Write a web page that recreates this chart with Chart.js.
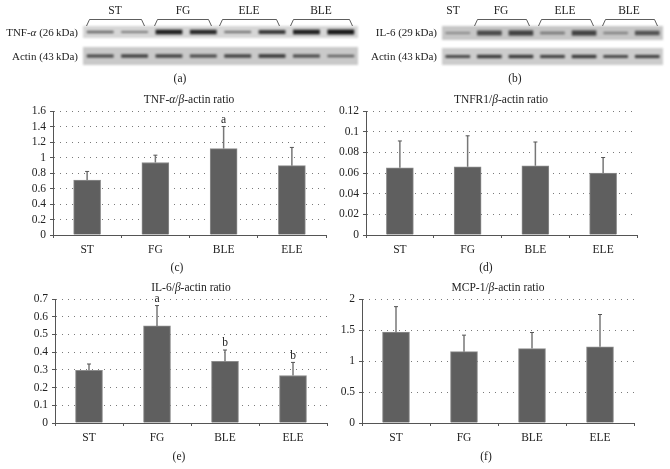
<!DOCTYPE html>
<html>
<head>
<meta charset="utf-8">
<script src="https://cdn.jsdelivr.net/npm/chart.js@4"></script>
<style>
    html, body { margin: 0; padding: 0; background: #fff; }
    #page { position: relative; width: 670px; height: 469px; overflow: hidden;
            font-family: "Liberation Serif", serif; font-size: 11.5px; color: #222; }
    #page canvas { position: absolute; }
    .label { position: absolute; white-space: nowrap; line-height: 1; }
    .small { font-size: 11px; }
    svg { position: absolute; left: 0; top: 0; }
</style>
</head>
<body>
<div id="page"></div>
<script>
const categories = ['ST', 'FG', 'BLE', 'ELE'];

const tnfMeans = [0.71, 0.935, 1.115, 0.895];
const tnfTops = [0.82, 1.03, 1.40, 1.13];
const tnfLetters = ['', '', 'a', ''];
const tnfTicks = [0, 0.2, 0.4, 0.6, 0.8, 1, 1.2, 1.4, 1.6];

const tnfr1Means = [0.065, 0.066, 0.067, 0.06];
const tnfr1Tops = [0.091, 0.096, 0.09, 0.075];
const tnfr1Letters = ['', '', '', ''];
const tnfr1Ticks = [0, 0.02, 0.04, 0.06, 0.08, 0.1, 0.12];

const il6Means = [0.298, 0.548, 0.348, 0.268];
const il6Tops = [0.333, 0.663, 0.412, 0.342];
const il6Letters = ['', 'a', 'b', 'b'];
const il6Ticks = [0, 0.1, 0.2, 0.3, 0.4, 0.5, 0.6, 0.7];

const mcp1Means = [1.465, 1.15, 1.2, 1.23];
const mcp1Tops = [1.877, 1.417, 1.46, 1.75];
const mcp1Letters = ['', '', '', ''];
const mcp1Ticks = [0, 0.5, 1, 1.5, 2];

// band strength per lane
const tnfBands = [0.5, 0.4, 0.95, 0.9, 0.45, 0.8, 0.95, 1];
const actinBandsA = [0.7, 0.75, 0.75, 0.7, 0.75, 0.8, 0.7, 0.55];
const il6Bands = [0.3, 0.7, 0.75, 0.4, 0.75, 0.35, 0.65];
const actinBandsB = [0.7, 0.8, 0.8, 0.75, 0.8, 0.7, 0.75];

const page = document.getElementById('page');

function addText(html, x, y, align) {
    const el = document.createElement('div');
    el.className = 'label' + (align === 'right' ? ' small' : '');
    el.innerHTML = html;
    el.style.top = y + 'px';
    el.style.left = x + 'px';
    const shift = align === 'right' ? '-100%' : '-50%';
    el.style.transform = 'translate(' + shift + ', -50%)';
    page.appendChild(el);
}

function addCanvas(left, top, width, height) {
    const canvas = document.createElement('canvas');
    canvas.width = width;
    canvas.height = height;
    canvas.style.left = left + 'px';
    canvas.style.top = top + 'px';
    canvas.style.width = width + 'px';
    canvas.style.height = height + 'px';
    page.appendChild(canvas);
    return canvas;
}

// upper error bars and significance letters
const errorBarPlugin = {
    id: 'errorBars',
    afterDatasetsDraw(chart, args, opts) {
        const ctx = chart.ctx;
        const y = chart.scales.y;
        const bars = chart.getDatasetMeta(0).data;
        ctx.save();
        bars.forEach((bar, i) => {
            const top = y.getPixelForValue(opts.tops[i]);
            ctx.strokeStyle = '#777';
            ctx.lineWidth = 1.5;
            ctx.beginPath();
            ctx.moveTo(bar.x, bar.y);
            ctx.lineTo(bar.x, top);
            ctx.stroke();
            ctx.strokeStyle = '#555';
            ctx.lineWidth = 1;
            ctx.beginPath();
            ctx.moveTo(bar.x - 2, top);
            ctx.lineTo(bar.x + 2, top);
            ctx.stroke();
            if (opts.letters[i]) {
                ctx.fillStyle = '#222';
                ctx.font = '11.5px "Liberation Serif"';
                ctx.textAlign = 'center';
                ctx.textBaseline = 'bottom';
                ctx.fillText(opts.letters[i], bar.x, top - 1);
            }
        });
        ctx.restore();
    }
};

function drawPanel(axisLeft, axisRight, top, means, tops, letters, ticks) {
    const yWidth = 43;
    const canvas = addCanvas(axisLeft - yWidth, top, axisRight - axisLeft + yWidth + 9, 160);
    new Chart(canvas, {
        type: 'bar',
        data: {
            labels: categories,
            datasets: [{
                data: means,
                backgroundColor: '#5f5f5f',
                borderColor: '#8c8c8c',
                borderWidth: 1,
                barThickness: 27
            }]
        },
        options: {
            responsive: false,
            animation: false,
            layout: { padding: { top: 11, right: 9 } },
            plugins: {
                legend: { display: false },
                tooltip: { enabled: false },
                errorBars: { tops: tops, letters: letters }
            },
            scales: {
                x: {
                    afterFit: scale => { scale.height = 25; },
                    grid: { offset: true, drawOnChartArea: false, tickLength: 3, tickColor: '#555' },
                    border: { color: '#555' },
                    ticks: { color: '#222', padding: 5, maxRotation: 0, font: { family: 'Liberation Serif', size: 11.5 } }
                },
                y: {
                    min: ticks[0],
                    max: ticks[ticks.length - 1],
                    afterFit: scale => { scale.width = yWidth; },
                    afterBuildTicks: scale => { scale.ticks = ticks.map(v => ({ value: v })); },
                    grid: { color: '#7a7a7a', lineWidth: 1, tickLength: 3, tickColor: '#555' },
                    border: { color: '#555', dash: [1, 5] },
                    ticks: {
                        color: '#222',
                        padding: 4,
                        autoSkip: false,
                        callback: v => String(v),
                        font: { family: 'Liberation Serif', size: 11.5 }
                    }
                }
            }
        },
        plugins: [errorBarPlugin]
    });
}

function drawBlot(left, top, width, height, bands, background, yRange) {
    const canvas = addCanvas(left, top, width, height);
    canvas.style.background = background;
    new Chart(canvas, {
        type: 'bar',
        data: {
            labels: bands.map((b, i) => i + 1),
            datasets: [{
                data: bands.map(b => [-b / 2, b / 2]),
                backgroundColor: bands.map(b => {
                    const g = Math.round(185 - b * 160);
                    return 'rgb(' + g + ',' + g + ',' + g + ')';
                }),
                categoryPercentage: 1,
                barPercentage: 0.78
            }]
        },
        options: {
            responsive: false,
            animation: false,
            plugins: { legend: { display: false }, tooltip: { enabled: false } },
            scales: {
                x: { display: false },
                y: { display: false, min: -yRange, max: yRange }
            }
        }
    });
    canvas.style.filter = 'blur(1px)';
}

function drawBrackets(spans) {
    const ns = 'http://www.w3.org/2000/svg';
    const svg = document.createElementNS(ns, 'svg');
    svg.setAttribute('width', 670);
    svg.setAttribute('height', 469);
    spans.forEach(s => {
        const line = document.createElementNS(ns, 'polyline');
        line.setAttribute('points', (s[0] - 1.5) + ',26 ' + (s[0] + 1.5) + ',19.5 ' + (s[1] - 1.5) + ',19.5 ' + (s[1] + 1.5) + ',26');
        line.setAttribute('fill', 'none');
        line.setAttribute('stroke', '#333');
        line.setAttribute('stroke-width', '0.8');
        svg.appendChild(line);
    });
    page.appendChild(svg);
}

// blots
drawBlot(83, 26, 275, 12, tnfBands, '#d6d6d6', 1.2);
drawBlot(83, 47, 275, 18, actinBandsA, '#c9c9c9', 2);
drawBlot(442, 26, 221, 14, il6Bands, '#c6c6c6', 1);
drawBlot(442, 48, 221, 17, actinBandsB, '#cccccc', 2);
drawBrackets([[88, 143], [156, 210], [221, 278], [292, 351], [476, 528], [540, 592], [604, 656]]);

addText('ST', 115, 11);
addText('FG', 183, 11);
addText('ELE', 249, 11);
addText('BLE', 321, 11);
addText('ST', 453, 11);
addText('FG', 501, 11);
addText('ELE', 565, 11);
addText('BLE', 629, 11);
addText('TNF-<i>α</i> (26&thinsp;kDa)', 78, 32, 'right');
addText('Actin (43&thinsp;kDa)', 78, 56, 'right');
addText('IL-6 (29&thinsp;kDa)', 437, 32, 'right');
addText('Actin (43&thinsp;kDa)', 437, 56, 'right');

// charts
drawPanel(53, 326, 100, tnfMeans, tnfTops, tnfLetters, tnfTicks);
drawPanel(366, 637, 100, tnfr1Means, tnfr1Tops, tnfr1Letters, tnfr1Ticks);
drawPanel(55, 327, 288, il6Means, il6Tops, il6Letters, il6Ticks);
drawPanel(362, 634, 288, mcp1Means, mcp1Tops, mcp1Letters, mcp1Ticks);

addText('TNF-<i>α</i>/<i>β</i>-actin ratio', 189, 100);
addText('TNFR1/<i>β</i>-actin ratio', 501, 100);
addText('IL-6/<i>β</i>-actin ratio', 191, 288);
addText('MCP-1/<i>β</i>-actin ratio', 498, 288);

addText('(a)', 180, 79);
addText('(b)', 515, 79);
addText('(c)', 177, 268);
addText('(d)', 486, 268);
addText('(e)', 179, 457);
addText('(f)', 486, 457);
</script>
</body>
</html>
